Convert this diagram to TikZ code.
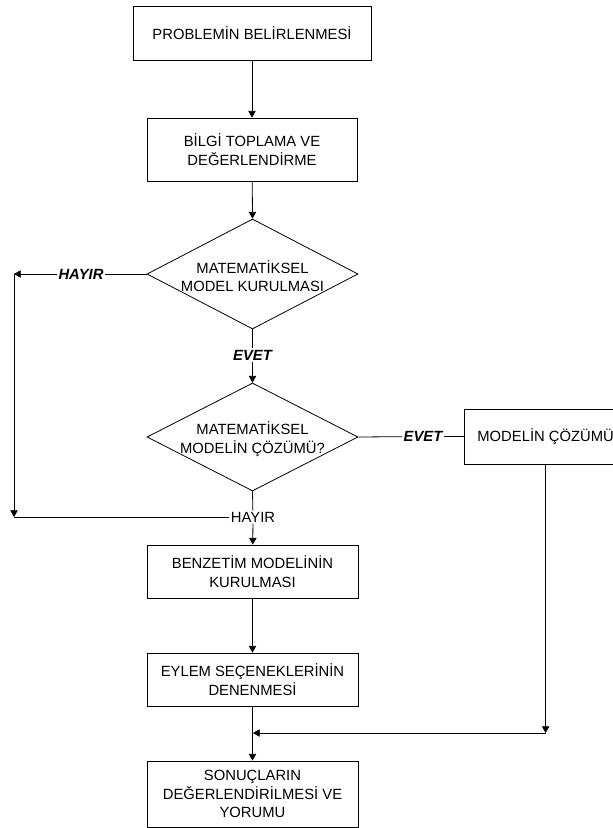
\documentclass[tikz,border=0pt]{standalone}
\usepackage{fontspec}
\setmainfont{Liberation Sans}
\usetikzlibrary{shapes.geometric,arrows.meta}

\tikzset{
  every node/.style={font=\fontsize{11.1}{13.8}\selectfont},
  flow/.style={line width=0.6pt, draw=black},
  arr/.style={flow, -{Triangle[length=5pt,width=5.5pt]}},
  procbox/.style={draw, line width=0.6pt, rectangle, align=center, inner sep=0pt,
    minimum width=158.25pt},
  decision/.style={draw, line width=0.6pt, diamond, inner sep=0pt,
    minimum width=158.25pt, minimum height=81pt},
  answer/.style={fill=white, inner sep=1pt, font=\fontsize{11.1}{13.8}\selectfont\bfseries\itshape},
  plainlabel/.style={fill=white, inner sep=1pt},
}

\begin{document}
\begin{tikzpicture}[x=0.75pt, y=-0.75pt]
  \useasboundingbox (0,0) rectangle (613,828);
  \clip (0,0) rectangle (613,828);

  % main column of steps
  \node[procbox, minimum width=178.5pt, minimum height=40.5pt] (b1) at (252,33)
    {PROBLEMİN BELİRLENMESİ};
  \node[procbox, minimum width=157.5pt, minimum height=47.25pt] (b2) at (252,149.5)
    {BİLGİ TOPLAMA VE\\DEĞERLENDİRME};
  \node[decision, minimum height=82.5pt] (d1) at (252.5,274) {};
  \node[align=center] (d1t) at (252.5,276) {MATEMATİKSEL\\MODEL KURULMASI};
  \node[decision] (d2) at (252.5,437) {};
  \node[align=center] (d2t) at (252.5,439) {MATEMATİKSEL\\MODELİN ÇÖZÜMÜ?};
  \node[procbox, minimum height=39.75pt] (b3) at (252.5,571.5)
    {BENZETİM MODELİNİN\\KURULMASI};
  \node[procbox, minimum height=39.75pt] (b4) at (252.5,679.5)
    {EYLEM SEÇENEKLERİNİN\\DENENMESİ};
  \node[procbox, minimum height=49.5pt] (b5) at (252.5,794)
    {SONUÇLARIN\\DEĞERLENDİRİLMESİ VE\\YORUMU};

  % analytic solution branch
  \node[draw, line width=0.6pt, rectangle, anchor=west, inner xsep=9.75pt, inner ysep=0pt,
    minimum height=41.25pt] (bm) at (464,436.5) {MODELİN ÇÖZÜMÜ};

  % branch labels and routing points
  \node[answer] (no1) at (81,274) {HAYIR};
  \node[answer] (yes1) at (252.5,355) {EVET};
  \node[answer] (yes2) at (423,436.5) {EVET};
  \node[plainlabel] (no2) at (253,517) {HAYIR};
  \coordinate (c1) at (14,274);
  \coordinate (c2) at (14,517);
  \coordinate (j) at (253,733);
  \coordinate (c3) at (bm.south |- j);

  % connectors
  \draw[arr] (b1) -- (b2);
  \draw[arr] (b2) -- (d1.north);
  \draw[flow] (d1.west) -- (no1);
  \draw[arr] (no1) -- (c1);
  \draw[arr] (c1) -- (c2);
  \draw[flow] (c2) -- (no2);
  \draw[flow] (d1.south) -- (yes1);
  \draw[arr] (yes1) -- (d2.north);
  \draw[flow] (d2.east) -- (yes2);
  \draw[flow] (yes2) -- (bm.west);
  \draw[flow] (d2.south) -- (no2);
  \draw[arr] (no2) -- (b3);
  \draw[arr] (b3) -- (b4);
  \draw[arr] (b4) -- (b5);
  \draw[arr] (bm.south) -- (c3);
  \draw[arr] (c3) -- (j);
\end{tikzpicture}
\end{document}
